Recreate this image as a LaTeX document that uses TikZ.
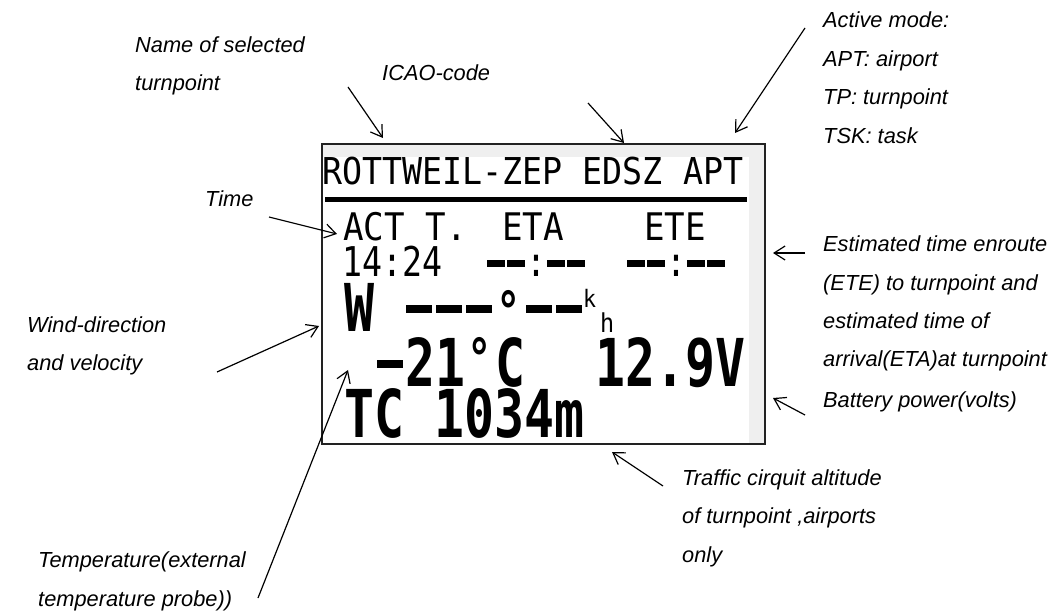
\documentclass[tikz,border=0pt]{standalone}
\usepackage{fontspec}
\setmainfont{Liberation Sans}
\newfontfamily\lcdfont{DejaVu Sans Mono}[FakeStretch=0.9]
\newfontfamily\lcdcond{DejaVu Sans Mono}[FakeStretch=0.81]
\newfontfamily\lcdheavy{DejaVu Sans Mono}[FakeStretch=0.755]
\usetikzlibrary{arrows.meta}
\definecolor{lcdframe}{HTML}{222222}
\definecolor{lcdshade}{HTML}{EFEFEF}
\newcommand{\lcdbar}[4]{\makebox[#1][c]{\rule[#4]{#2}{#3}}}
\newcommand{\shortbar}{\lcdbar{20pt}{18pt}{7pt}{10pt}}
\newcommand{\longbar}{\lcdbar{30pt}{26pt}{8pt}{19pt}}
\newcommand{\lcddeg}[1]{\makebox[30pt][c]{\raisebox{#1}{\fontsize{54}{54}\selectfont °}}}

\begin{document}
\begin{tikzpicture}[x=1pt,y=-1pt,
  note/.style={font=\fontsize{21.8}{38.5}\selectfont\itshape,align=left,anchor=base west,inner sep=0pt},
  pointer/.style={-{Straight Barb[length=11pt,width=14pt]},line width=1.2pt},
  lcd/.style={anchor=base west,inner sep=0pt},
  lcdsmall/.style={lcd,font=\lcdfont\fontsize{38}{38}\selectfont},
  lcdbig/.style={lcd,font=\lcdheavy\bfseries\fontsize{66}{66}\selectfont}]
  \useasboundingbox (0,0) rectangle (1061,612);
  % display frame
  \fill[lcdshade] (323,145) rectangle (764,157);
  \fill[lcdshade] (749,145) rectangle (764,443);
  \draw[lcdframe,line width=2pt] (322,144) rectangle (765,444);
  % first line
  \node[lcd,font=\lcdfont\fontsize{37}{37}\selectfont] (tpname) at (322,185) {ROTTWEIL-ZEP EDSZ APT};
  \draw[line width=5pt] (325,200) -- (747,200);
  % times
  \node[lcdsmall] (acthead) at (343,241) {ACT T.};
  \node[lcdsmall] (etahead) at (502,241) {ETA};
  \node[lcdsmall] (etehead) at (644,241) {ETE};
  \node[lcd,font=\lcdcond\fontsize{41}{41}\selectfont] (acttime) at (342,277) {14:24};
  \node[lcd,font=\lcdcond\fontsize{41}{41}\selectfont] (etatime) at (486,277) {\shortbar\shortbar:\shortbar\shortbar};
  \node[lcd,font=\lcdcond\fontsize{41}{41}\selectfont] (etetime) at (626,277) {\shortbar\shortbar:\shortbar\shortbar};
  % wind
  \node[lcdbig] (wind) at (344,332) {W \longbar\longbar\longbar\lcddeg{1pt}\longbar\longbar};
  \node[lcd,font=\lcdfont\fontsize{24}{24}\selectfont] (windk) at (583,308) {k};
  \node[lcd,font=\lcdfont\fontsize{26}{26}\selectfont] (windh) at (600,333) {h};
  % temperature, voltage, altitude
  \node[lcdbig] (temp) at (375,387) {\longbar 21\lcddeg{9pt}C};
  \node[lcdbig] (volt) at (595,387) {12.9V};
  \node[lcdbig] (tcalt) at (344,438) {TC 1034m};
  % notes (anchored on the last line)
  \node[note] (lblname) at (135,91) {Name of selected\\turnpoint};
  \node[note] (lblicao) at (382,81) {ICAO-code};
  \node[note] (lblmode) at (823,143.5) {Active mode:\\APT: airport\\TP: turnpoint\\TSK: task};
  \node[note] (lbltime) at (205,207) {Time};
  \node[note] (lblwind) at (27,371) {Wind-direction\\and velocity};
  \node[note] (lblete) at (823,367) {Estimated time enroute\\(ETE) to turnpoint and\\estimated time of\\arrival(ETA)at turnpoint};
  \node[note] (lblbatt) at (823,408) {Battery power(volts)};
  \node[note] (lbltraffic) at (682,562) {Traffic cirquit altitude\\of turnpoint ,airports\\only};
  \node[note] (lbltemp) at (38,606) {Temperature(external\\temperature probe))};
  % pointers
  \coordinate (nametail) at (348,87);
  \coordinate (nametip) at (383,138);
  \coordinate (icaotail) at (588,103);
  \coordinate (icaotip) at (624,143);
  \coordinate (modetail) at (805,28);
  \coordinate (modetip) at (735,133);
  \coordinate (timetail) at (269,217);
  \coordinate (timetip) at (337,234);
  \coordinate (windtail) at (217,372);
  \coordinate (windtip) at (319,326);
  \coordinate (temptail) at (258,598);
  \coordinate (temptip) at (348,370);
  \coordinate (etetail) at (805,253);
  \coordinate (etetip) at (773,253);
  \coordinate (batttail) at (805,415);
  \coordinate (batttip) at (773,398);
  \coordinate (traffictail) at (663,486);
  \coordinate (traffictip) at (612,452);
  \draw[pointer] (nametail) -- (nametip);
  \draw[pointer] (icaotail) -- (icaotip);
  \draw[pointer] (modetail) -- (modetip);
  \draw[pointer] (timetail) -- (timetip);
  \draw[pointer] (windtail) -- (windtip);
  \draw[pointer] (temptail) -- (temptip);
  \draw[pointer] (etetail) -- (etetip);
  \draw[pointer] (batttail) -- (batttip);
  \draw[pointer] (traffictail) -- (traffictip);
\end{tikzpicture}
\end{document}
